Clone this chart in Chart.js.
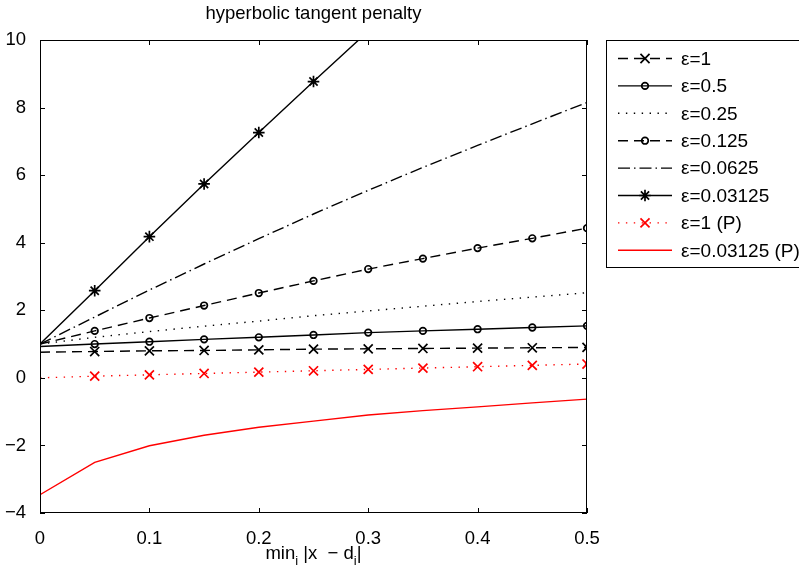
<!DOCTYPE html>
<html>
<head>
<meta charset="utf-8">
<script src="https://cdn.jsdelivr.net/npm/chart.js@4"></script>
<style>
  html, body { margin: 0; padding: 0; background: #fff; }
  #wrap { width: 799px; height: 570px; }
</style>
</head>
<body>
<div id="wrap"><canvas id="penaltyChart" width="799" height="570"></canvas></div>
<script>
// x positions: min_i |x - d_i|
var xVals = [0, 0.05, 0.1, 0.15, 0.2, 0.25, 0.3, 0.35, 0.4, 0.45, 0.5];

// penalty values
var eps1      = [0.76, 0.78, 0.80, 0.81, 0.83, 0.85, 0.86, 0.87, 0.88, 0.89, 0.90];
var eps05     = [0.93, 1.00, 1.07, 1.14, 1.20, 1.27, 1.34, 1.39, 1.44, 1.49, 1.54];
var eps025    = [1.00, 1.20, 1.37, 1.53, 1.68, 1.84, 1.98, 2.12, 2.26, 2.39, 2.52];
var eps0125   = [1.00, 1.39, 1.77, 2.14, 2.51, 2.87, 3.22, 3.53, 3.84, 4.13, 4.43];
var eps00625  = [1.00, 1.80, 2.60, 3.37, 4.12, 4.85, 5.55, 6.23, 6.88, 7.52, 8.15];
var eps003125 = [1.00, 2.58, 4.18, 5.74, 7.26, 8.77, 10.26, 11.74, 13.20, 14.65, 16.10];
var eps1P     = [0.00, 0.05, 0.09, 0.13, 0.17, 0.21, 0.25, 0.29, 0.33, 0.37, 0.41];
var eps003125P = [-3.46, -2.50, -2.01, -1.70, -1.46, -1.28, -1.10, -0.97, -0.86, -0.74, -0.63];

var seriesLabels = ['\u03b5=1', '\u03b5=0.5', '\u03b5=0.25', '\u03b5=0.125', '\u03b5=0.0625',
                    '\u03b5=0.03125', '\u03b5=1 (P)', '\u03b5=0.03125 (P)'];
var xTicks = [0, 0.1, 0.2, 0.3, 0.4, 0.5];
var yTicks = [-4, -2, 0, 2, 4, 6, 8, 10];

var FONT = '"Liberation Sans", Arial, Helvetica, sans-serif';
var FSIZE = 18.5;

function pts(ys) {
    return ys.map(function(y, i){ return {x: xVals[i], y: y}; });
}
// no marker at x = 0
function radii(r) {
    return xVals.map(function(x, i){ return i === 0 ? 0 : r; });
}

var styles = [
    {color: '#000', dash: [10, 6], marker: 'crossRot', r: 6.4},
    {color: '#000', dash: [], marker: 'circle', r: 3.3},
    {color: '#000', dash: [1.4, 6.5], marker: null, r: 0},
    {color: '#000', dash: [10, 6], marker: 'circle', r: 3.3},
    {color: '#000', dash: [12, 4, 1.5, 4], marker: null, r: 0},
    {color: '#000', dash: [], marker: 'star', r: 5.8},
    {color: '#ff0000', dash: [1.4, 6.5], marker: 'crossRot', r: 6.4},
    {color: '#ff0000', dash: [], marker: null, r: 0}
];
var seriesData = [eps1, eps05, eps025, eps0125, eps00625, eps003125, eps1P, eps003125P];

var datasets = seriesData.map(function(d, i){
    var s = styles[i];
    return {
        label: seriesLabels[i],
        data: pts(d),
        borderColor: s.color,
        borderWidth: 1.4,
        borderDash: s.dash,
        backgroundColor: 'rgba(0,0,0,0)',
        pointStyle: s.marker || 'circle',
        pointRadius: s.marker ? radii(s.r) : 0,
        pointHoverRadius: 0,
        pointBorderColor: s.color,
        pointBorderWidth: 1.7,
        pointBackgroundColor: 'rgba(0,0,0,0)',
        tension: 0,
        fill: false
    };
});

function drawMarker(ctx, type, x, y, r) {
    ctx.beginPath();
    if (type === 'circle') {
        ctx.arc(x, y, r, 0, Math.PI * 2);
    } else if (type === 'crossRot' || type === 'star') {
        var o = r * Math.SQRT1_2;
        ctx.moveTo(x - o, y - o); ctx.lineTo(x + o, y + o);
        ctx.moveTo(x - o, y + o); ctx.lineTo(x + o, y - o);
        if (type === 'star') {
            ctx.moveTo(x - r, y); ctx.lineTo(x + r, y);
            ctx.moveTo(x, y - r); ctx.lineTo(x, y + r);
        }
    }
    ctx.stroke();
}

var decorPlugin = {
    id: 'decor',
    afterDraw: function(chart) {
        var ctx = chart.ctx;
        var a = chart.chartArea;
        var xs = chart.scales.x, ys = chart.scales.y;
        ctx.save();
        ctx.strokeStyle = '#000';
        ctx.lineWidth = 1;
        ctx.setLineDash([]);
        // axes box
        ctx.strokeRect(a.left + 0.5, a.top + 0.5, a.right - a.left - 1, a.bottom - a.top - 1);
        // inward ticks
        ctx.beginPath();
        xTicks.forEach(function(v){
            var px = Math.round(xs.getPixelForValue(v)) + 0.5;
            ctx.moveTo(px, a.bottom); ctx.lineTo(px, a.bottom - 5);
            ctx.moveTo(px, a.top); ctx.lineTo(px, a.top + 5);
        });
        yTicks.forEach(function(v){
            var py = Math.round(ys.getPixelForValue(v)) + 0.5;
            ctx.moveTo(a.left, py); ctx.lineTo(a.left + 5, py);
            ctx.moveTo(a.right, py); ctx.lineTo(a.right - 5, py);
        });
        ctx.stroke();

        // title
        ctx.fillStyle = '#000';
        ctx.font = FSIZE + 'px ' + FONT;
        ctx.textAlign = 'center';
        ctx.textBaseline = 'alphabetic';
        var cx = (a.left + a.right) / 2;
        ctx.fillText('hyperbolic tangent penalty', cx, 19);

        // x label with subscripts: min_i |x  - d_i|
        var parts = [
            {t: 'min', sub: false}, {t: 'i', sub: true}, {t: ' |x  \u2212 d', sub: false},
            {t: 'i', sub: true}, {t: '|', sub: false}
        ];
        var subFont = '13px ' + FONT, mainFont = FSIZE + 'px ' + FONT;
        var total = 0;
        parts.forEach(function(p){
            ctx.font = p.sub ? subFont : mainFont;
            p.w = ctx.measureText(p.t).width;
            total += p.w;
        });
        var lx = cx - total / 2;
        ctx.textAlign = 'left';
        parts.forEach(function(p){
            ctx.font = p.sub ? subFont : mainFont;
            ctx.fillText(p.t, lx, p.sub ? 565 : 559);
            lx += p.w;
        });

        // legend
        var bx = 606, by = 40, bh = 227;
        ctx.lineWidth = 1;
        ctx.strokeStyle = '#000';
        ctx.strokeRect(bx + 0.5, by + 0.5, 300, bh);
        ctx.font = '19px ' + FONT;
        ctx.textBaseline = 'middle';
        seriesLabels.forEach(function(lbl, i){
            var s = styles[i];
            var yy = 58.5 + i * 27.4;
            ctx.strokeStyle = s.color;
            ctx.lineWidth = 1.4;
            ctx.setLineDash(s.dash);
            ctx.beginPath();
            ctx.moveTo(618, yy); ctx.lineTo(672, yy);
            ctx.stroke();
            ctx.setLineDash([]);
            if (s.marker) {
                ctx.lineWidth = 1.7;
                drawMarker(ctx, s.marker, 645, yy, s.r);
            }
            ctx.fillStyle = '#000';
            ctx.fillText(lbl, 681, yy + 1);
        });
        ctx.restore();
    }
};

var config = {
    type: 'line',
    data: { datasets: datasets },
    options: {
        responsive: false,
        animation: false,
        events: [],
        layout: { padding: { left: 0, right: 212, top: 40, bottom: 0 } },
        plugins: {
            legend: { display: false },
            title: { display: false },
            tooltip: { enabled: false }
        },
        scales: {
            x: {
                type: 'linear',
                min: 0, max: 0.5,
                grid: { display: false },
                border: { display: false },
                afterFit: function(scale){ scale.height = 57; },
                afterBuildTicks: function(scale){
                    scale.ticks = xTicks.map(function(v){ return {value: v}; });
                },
                ticks: {
                    color: '#000',
                    padding: 7,
                    font: { family: FONT, size: FSIZE },
                    maxRotation: 0,
                    callback: function(v){ return String(v); }
                }
            },
            y: {
                min: -4, max: 10,
                grid: { display: false },
                border: { display: false },
                afterFit: function(scale){ scale.width = 40; },
                afterBuildTicks: function(scale){
                    scale.ticks = yTicks.map(function(v){ return {value: v}; });
                },
                ticks: {
                    color: '#000',
                    padding: 6,
                    font: { family: FONT, size: FSIZE },
                    callback: function(v){ return String(v).replace('-', '\u2212'); }
                }
            }
        }
    },
    plugins: [decorPlugin]
};

const penaltyChart = new Chart(
    document.getElementById('penaltyChart'),
    config
);
</script>
</body>
</html>
